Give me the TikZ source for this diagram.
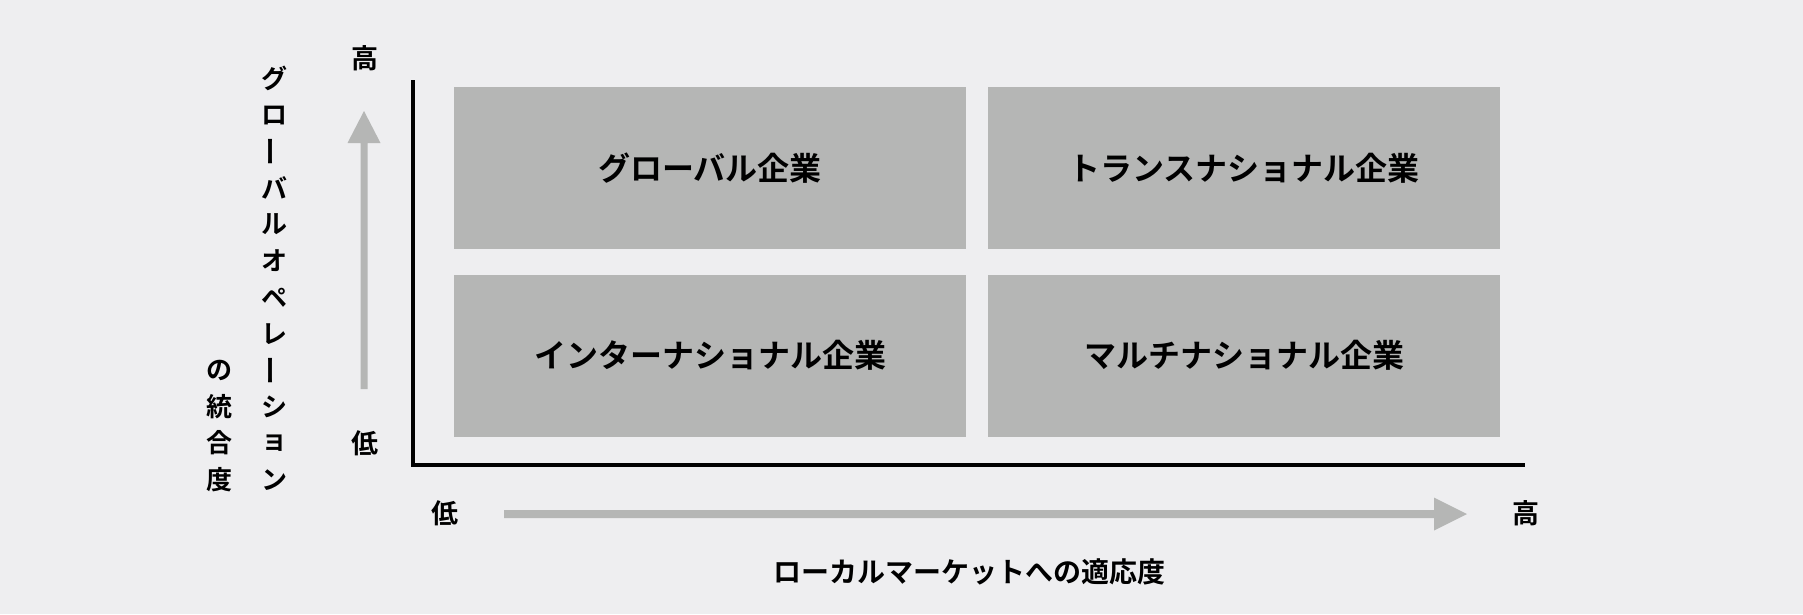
\documentclass[tikz,border=0pt]{standalone}
\usepackage{fontspec}
\setmainfont{Noto Sans CJK JP}[BoldFont={Noto Sans CJK JP Bold}]
\definecolor{bgc}{RGB}{238,238,240}
\definecolor{boxgray}{RGB}{181,182,181}
\newcommand{\vbar}{\rotatebox[origin=c]{90}{\scalebox{1.15}[1]{ー}}}
\begin{document}
\begin{tikzpicture}[x=1pt,y=-1pt,
  quad/.style={fill=boxgray, minimum width=512pt, minimum height=162pt, inner sep=0pt,
    font=\fontsize{32}{32}\selectfont\bfseries},
  lbl/.style={font=\fontsize{27}{27}\selectfont\bfseries, inner sep=0pt},
  ttl/.style={font=\fontsize{28}{28}\selectfont\bfseries, inner sep=0pt},
  vch/.style={font=\fontsize{26}{26}\selectfont\bfseries, inner sep=0pt},
  axis/.style={line width=3.5pt, line join=miter},
  garrow/.style={fill=boxgray}]
\fill[bgc] (0,0) rectangle (1803,614);
\useasboundingbox (0,0) rectangle (1803,614);
% quadrants
\node[quad] (gl) at (710,168) {グローバル企業};
\node[quad] (tn) at (1244,168) {トランスナショナル企業};
\node[quad] (in) at (710,355.5) {インターナショナル企業};
\node[quad] (mn) at (1244,355.5) {マルチナショナル企業};
% axes
\coordinate (ytop) at (413,80);
\coordinate (orig) at (413,465);
\coordinate (xend) at (1525,465);
\draw[axis] (ytop) -- (orig) -- (xend);
% vertical gray arrow
\fill[garrow] (360.5,389) -- (360.5,143) -- (347.5,143) -- (364,111) -- (380.5,143) -- (367.5,143) -- (367.5,389) -- cycle;
% horizontal gray arrow
\fill[garrow] (504,510) -- (1434,510) -- (1434,497.5) -- (1467,514) -- (1434,530.5) -- (1434,518) -- (504,518) -- cycle;
% axis end labels
\node[lbl] (yhi) at (365,58) {高};
\node[lbl] (ylo) at (365,443) {低};
\node[lbl] (xlo) at (445,513) {低};
\node[lbl] (xhi) at (1526,513) {高};
\node[ttl] (xtitle) at (969,572) {ローカルマーケットへの適応度};
% vertical title, right column
\foreach \ch [count=\i from 0] in {グ,ロ,\vbar,バ,ル,オ,ペ,レ,\vbar,シ,ョ,ン}
  \node[vch] (v\i) at (274,78.5+36.5*\i) {\ch};
% vertical title, left column
\foreach \ch [count=\i from 0] in {の,統,合,度}
  \node[vch] (w\i) at (219,370+36.5*\i) {\ch};
\end{tikzpicture}
\end{document}
